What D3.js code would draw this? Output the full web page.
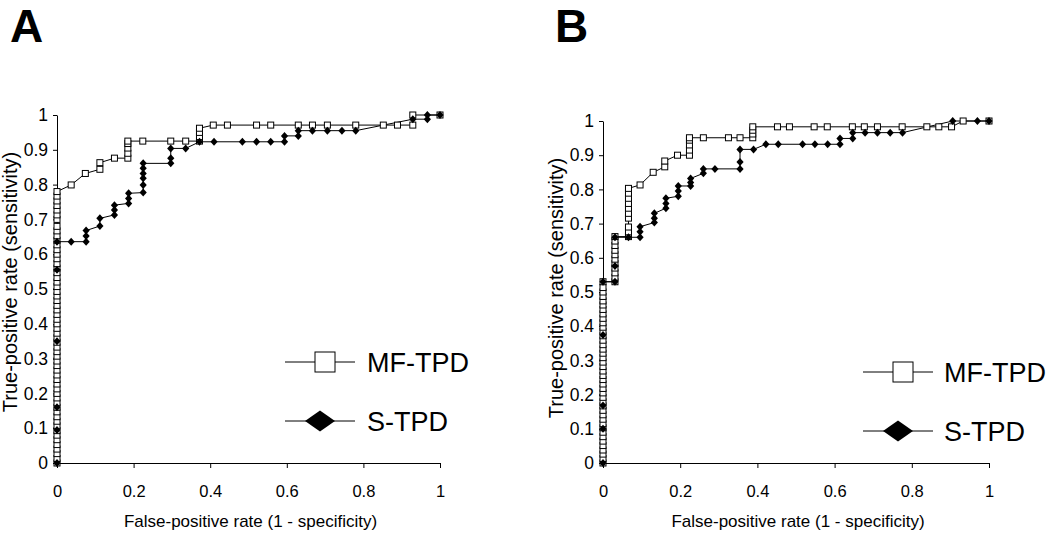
<!DOCTYPE html>
<html><head><meta charset="utf-8">
<script src="https://cdn.jsdelivr.net/npm/d3@7"></script>
<style>body{margin:0;background:#fff}svg{display:block}text{font-family:"Liberation Sans",Arial,sans-serif;fill:#000}</style>
</head><body><svg id="c" width="1050" height="534"></svg>
<script>
// ---- data ----
const panelLabels = ["A", "B"];
const seriesNames = ["MF-TPD", "S-TPD"];
const xAxisTitle = "False-positive rate (1 - specificity)";
const yAxisTitle = "True-positive rate (sensitivity)";
const xTicks = [0, 0.2, 0.4, 0.6, 0.8, 1];
const xTickLabels = ["0", "0.2", "0.4", "0.6", "0.8", "1"];
const yTicks = [0, 0.1, 0.2, 0.3, 0.4, 0.5, 0.6, 0.7, 0.8, 0.9, 1];
const yTickLabels = ["0", "0.1", "0.2", "0.3", "0.4", "0.5", "0.6", "0.7", "0.8", "0.9", "1"];

// Panel A, MF-TPD (open squares)
const A_MF = [[0,0],[0,0.013],[0,0.027],[0,0.04],[0,0.053],[0,0.067],[0,0.08],[0,0.093],[0,0.107],[0,0.12],
 [0,0.133],[0,0.147],[0,0.16],[0,0.173],[0,0.187],[0,0.2],[0,0.213],[0,0.227],[0,0.24],[0,0.253],
 [0,0.267],[0,0.28],[0,0.293],[0,0.307],[0,0.32],[0,0.333],[0,0.347],[0,0.36],[0,0.373],[0,0.387],
 [0,0.4],[0,0.413],[0,0.427],[0,0.44],[0,0.453],[0,0.467],[0,0.48],[0,0.493],[0,0.507],[0,0.52],
 [0,0.533],[0,0.547],[0,0.56],[0,0.573],[0,0.587],[0,0.6],[0,0.613],[0,0.627],[0,0.64],[0,0.653],
 [0,0.667],[0,0.68],[0,0.7],[0,0.713],[0,0.727],[0,0.74],[0,0.753],[0,0.767],[0,0.78],
 [0.037,0.799],[0.074,0.832],[0.112,0.844],[0.112,0.863],[0.15,0.876],[0.185,0.876],[0.185,0.89],
 [0.185,0.905],[0.185,0.918],[0.185,0.925],[0.224,0.925],[0.297,0.925],[0.336,0.925],[0.372,0.925],
 [0.372,0.938],[0.372,0.95],[0.372,0.962],[0.408,0.971],[0.445,0.971],[0.521,0.971],[0.558,0.971],
 [0.63,0.971],[0.667,0.971],[0.706,0.971],[0.78,0.971],[0.852,0.971],[0.889,0.971],[0.929,0.971],
 [0.929,1],[1,1]];
// Panel A, S-TPD (filled diamonds)
const A_S = [[0,0],[0,0.095],[0,0.16],[0,0.35],[0,0.555],[0,0.636],[0.037,0.636],[0.076,0.636],
 [0.076,0.652],[0.076,0.668],[0.112,0.681],[0.112,0.703],[0.15,0.713],[0.15,0.727],[0.15,0.741],
 [0.187,0.746],[0.187,0.76],[0.187,0.775],[0.225,0.777],[0.225,0.799],[0.225,0.818],[0.225,0.832],
 [0.225,0.847],[0.225,0.861],[0.297,0.861],[0.297,0.876],[0.297,0.904],[0.336,0.904],[0.372,0.923],
 [0.41,0.923],[0.484,0.923],[0.521,0.923],[0.558,0.923],[0.594,0.923],[0.594,0.94],[0.63,0.94],
 [0.63,0.955],[0.667,0.955],[0.706,0.955],[0.744,0.955],[0.78,0.955],[0.929,0.988],[0.967,0.988],
 [0.967,1],[1,1]];
// Panel B, MF-TPD
const B_MF = [[0,0],[0,0.013],[0,0.026],[0,0.038],[0,0.051],[0,0.064],[0,0.077],[0,0.09],[0,0.103],[0,0.115],
 [0,0.128],[0,0.141],[0,0.154],[0,0.167],[0,0.179],[0,0.192],[0,0.205],[0,0.218],[0,0.231],[0,0.244],
 [0,0.256],[0,0.269],[0,0.282],[0,0.295],[0,0.308],[0,0.321],[0,0.333],[0,0.346],[0,0.359],[0,0.372],
 [0,0.385],[0,0.397],[0,0.41],[0,0.423],[0,0.436],[0,0.449],[0,0.462],[0,0.474],[0,0.487],[0,0.5],
 [0,0.513],[0,0.53],
 [0.031,0.53],[0.031,0.543],[0.031,0.556],[0.031,0.57],[0.031,0.583],[0.031,0.596],[0.031,0.609],
 [0.031,0.622],[0.031,0.636],[0.031,0.649],[0.031,0.662],
 [0.066,0.662],[0.066,0.676],[0.066,0.69],[0.066,0.716],[0.066,0.73],[0.066,0.745],[0.066,0.759],
 [0.066,0.774],[0.066,0.789],[0.066,0.803],
 [0.096,0.813],[0.13,0.85],[0.16,0.866],[0.16,0.883],[0.193,0.9],[0.224,0.9],[0.224,0.915],
 [0.224,0.93],[0.224,0.944],[0.224,0.951],[0.26,0.951],[0.325,0.951],[0.355,0.951],[0.388,0.951],
 [0.388,0.962],[0.388,0.973],[0.388,0.983],[0.452,0.983],[0.483,0.983],[0.547,0.983],[0.581,0.983],
 [0.646,0.983],[0.677,0.983],[0.711,0.983],[0.775,0.983],[0.839,0.983],[0.87,0.983],[0.903,0.983],
 [0.933,1],[1,1]];
// Panel B, S-TPD
const B_S = [[0,0],[0,0.1],[0,0.168],[0,0.374],[0,0.53],[0.031,0.53],[0.031,0.576],[0.031,0.66],
 [0.066,0.66],[0.096,0.66],[0.096,0.676],[0.096,0.691],[0.133,0.703],[0.133,0.716],[0.133,0.73],
 [0.163,0.745],[0.163,0.759],[0.163,0.774],[0.195,0.78],[0.195,0.795],[0.195,0.81],[0.227,0.81],
 [0.227,0.82],[0.227,0.832],[0.26,0.847],[0.26,0.86],[0.29,0.86],[0.355,0.86],[0.355,0.88],
 [0.355,0.917],[0.39,0.917],[0.422,0.932],[0.454,0.932],[0.517,0.932],[0.549,0.932],[0.582,0.932],
 [0.614,0.932],[0.614,0.949],[0.647,0.949],[0.647,0.966],[0.679,0.966],[0.711,0.966],[0.744,0.966],
 [0.776,0.966],[0.906,1],[0.97,1],[1,1]];

// ---- layout ----
const panels = [
  {label: panelLabels[0], mf: A_MF, s: A_S, x0: 57, x1: 440, y0: 463, y1: 115, lx: 10, ytx: 17, yc: 282,
   leg: {x0: 285, x1: 355, sq: 325, dm: 320, tx: 367, y1: 362, y2: 421}},
  {label: panelLabels[1], mf: B_MF, s: B_S, x0: 603, x1: 989, y0: 463, y1: 121, lx: 555, ytx: 563, yc: 288,
   leg: {x0: 863, x1: 933, sq: 903, dm: 898, tx: 944, y1: 372, y2: 431}}
];

const svg = d3.select("#c");
const diamond = (w, h) => `M0,${-h}L${w},0L0,${h}L${-w},0Z`;

panels.forEach(p => {
  const x = d3.scaleLinear().domain([0, 1]).range([p.x0, p.x1]);
  const y = d3.scaleLinear().domain([0, 1]).range([p.y0, p.y1]);
  const g = svg.append("g");

  // panel label
  g.append("text").attr("x", p.lx).attr("y", 42).attr("font-size", 46).attr("font-weight", "bold").text(p.label);

  // axes
  const ya = g.append("g").attr("transform", `translate(${p.x0},0)`)
    .call(d3.axisLeft(y).tickValues(yTicks).tickFormat((d, i) => yTickLabels[i]).tickSize(4).tickSizeOuter(0).tickPadding(5));
  const xa = g.append("g").attr("transform", `translate(0,${p.y0})`)
    .call(d3.axisBottom(x).tickValues(xTicks).tickFormat((d, i) => xTickLabels[i]).tickSize(5).tickSizeOuter(0).tickPadding(17));
  [ya, xa].forEach(a => {
    a.attr("font-family", null).attr("font-size", null);
    a.selectAll("path,line").attr("stroke", "#000").attr("stroke-width", 1);
  });
  ya.selectAll("text").attr("font-size", 17.5);
  xa.selectAll("text").attr("font-size", 16.5);

  g.append("text").attr("x", (p.x0 + p.x1) / 2 + 2).attr("y", 527).attr("text-anchor", "middle")
    .attr("font-size", 17).text(xAxisTitle);
  g.append("text").attr("transform", `translate(${p.ytx},${p.yc}) rotate(-90)`).attr("text-anchor", "middle")
    .attr("font-size", 20).text(yAxisTitle);

  const line = d3.line().x(d => x(d[0])).y(d => y(d[1]));
  g.append("path").datum(p.mf).attr("d", line).attr("fill", "none").attr("stroke", "#000").attr("stroke-width", 1);
  g.append("path").datum(p.s).attr("d", line).attr("fill", "none").attr("stroke", "#000").attr("stroke-width", 1);

  g.selectAll(".sq").data(p.mf).join("rect").attr("class", "sq")
    .attr("x", d => x(d[0]) - 3).attr("y", d => y(d[1]) - 3).attr("width", 6).attr("height", 6)
    .attr("fill", "#fff").attr("stroke", "#000").attr("stroke-width", 1);
  g.selectAll(".dm").data(p.s).join("path").attr("class", "dm")
    .attr("transform", d => `translate(${x(d[0])},${y(d[1])})`).attr("d", diamond(3.6, 4)).attr("fill", "#000");

  // legend
  const L = p.leg;
  g.append("line").attr("x1", L.x0).attr("x2", L.x1).attr("y1", L.y1).attr("y2", L.y1).attr("stroke", "#000");
  g.append("rect").attr("x", L.sq - 10).attr("y", L.y1 - 10).attr("width", 20).attr("height", 20)
    .attr("fill", "#fff").attr("stroke", "#000");
  g.append("text").attr("x", L.tx).attr("y", L.y1 + 10).attr("font-size", 27).text(seriesNames[0]);
  g.append("line").attr("x1", L.x0).attr("x2", L.x1).attr("y1", L.y2).attr("y2", L.y2).attr("stroke", "#000");
  g.append("path").attr("transform", `translate(${L.dm},${L.y2})`).attr("d", diamond(15, 10.5)).attr("fill", "#000");
  g.append("text").attr("x", L.tx).attr("y", L.y2 + 10).attr("font-size", 27).text(seriesNames[1]);
});
</script></body></html>
